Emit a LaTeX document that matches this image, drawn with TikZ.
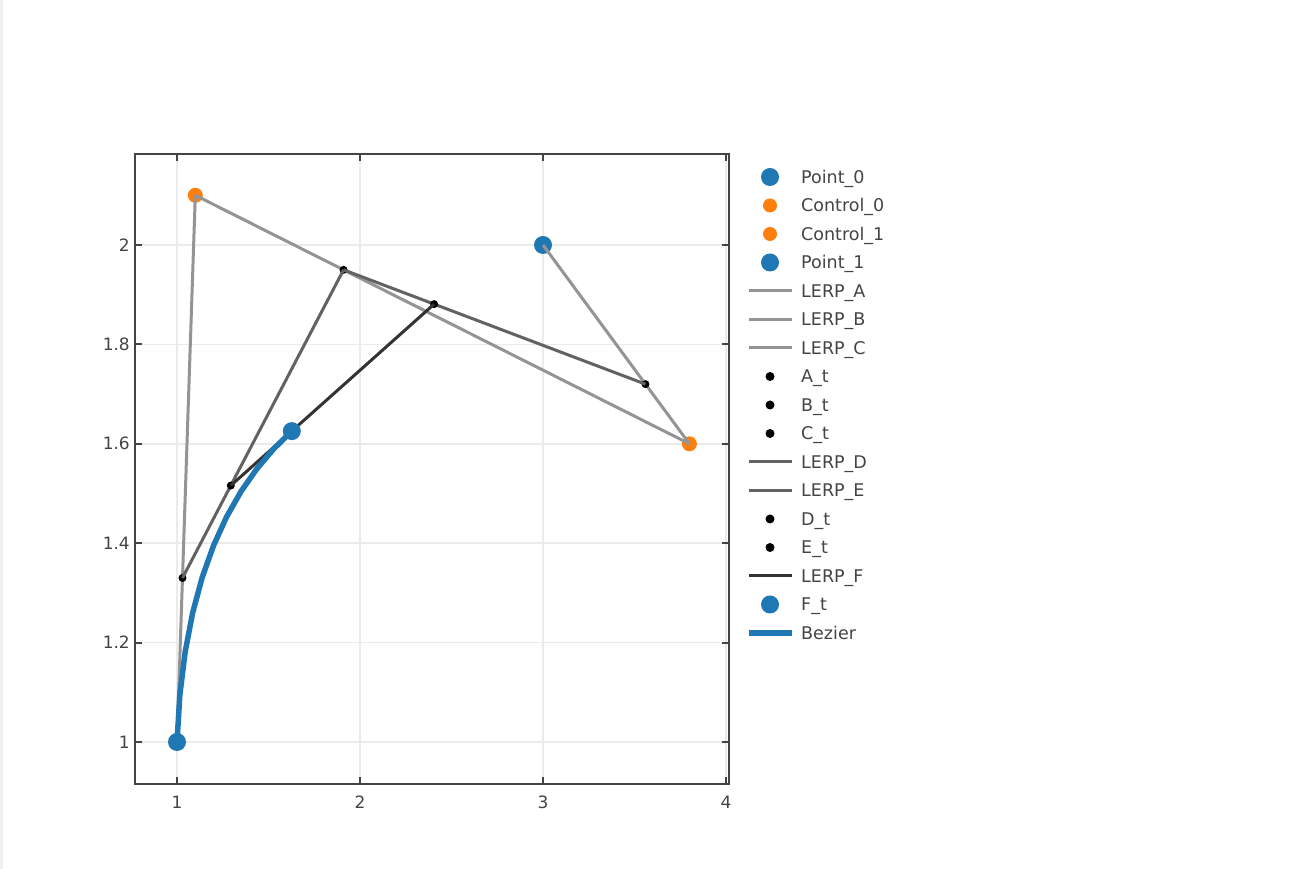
\documentclass[tikz,border=0pt]{standalone}
\usepackage{fontspec}
\setmainfont{DejaVu Sans}
\usetikzlibrary{calc}
\definecolor{pblue}{HTML}{1F77B4}
\definecolor{porange}{HTML}{FF7F0E}
\definecolor{lgray}{HTML}{949494}
\definecolor{mgray}{HTML}{626262}
\definecolor{dgray}{HTML}{333333}
\definecolor{gridc}{HTML}{EBEBEB}
\definecolor{axisc}{HTML}{444444}
\begin{document}
\begin{tikzpicture}[x=1pt, y=1pt,
    bigpt/.style={circle, fill=pblue, minimum size=18pt, inner sep=0},
    ctlpt/.style={circle, fill=porange, minimum size=15pt, inner sep=0},
    tpt/.style={circle, fill=black, minimum size=8pt, inner sep=0},
    lerpa/.style={lgray, line width=3pt},
    lerpb/.style={mgray, line width=3pt},
    lerpc/.style={dgray, line width=3pt},
    bez/.style={pblue, line width=5.5pt},
    gridline/.style={gridc, line width=1.5pt},
    tickmark/.style={axisc, line width=2pt},
    ticklab/.style={font=\fontsize{17}{20}\selectfont, text=axisc, inner sep=0},
    legtext/.style={anchor=west, inner sep=0, text height=12.5pt, text depth=0pt,
        font=\fontsize{17.5}{20}\selectfont, text=axisc}
]
    % Rahmen des Bildes
    \fill[white] (0,0) rectangle (1296,869);
    \useasboundingbox (0,0) rectangle (1296,869);
    \fill[black!6] (0,0) rectangle (3,869);

    \begin{scope}[shift={(-6pt,-370pt)}, x=183pt, y=497pt]
        % Gitter
        \foreach \xv in {1,2,3,4}
            \draw[gridline] (\xv,0.9155) -- (\xv,2.1831);
        \foreach \yv in {1,1.2,...,2.01}
            \draw[gridline] (0.7705,\yv) -- (4.0164,\yv);

        % Ticks und Beschriftung
        \foreach \xv in {1,2,3,4} {
            \draw[tickmark] (\xv,0.9155) -- ++(0pt,7pt);
            \draw[tickmark] (\xv,2.1831) -- ++(0pt,-7pt);
            \node[ticklab] (xl\xv) at ([yshift=-18pt]\xv,0.9155) {\xv};
        }
        \foreach \yv/\ylab in {1/1,1.2/1.2,1.4/1.4,1.6/1.6,1.8/1.8,2/2} {
            \draw[tickmark] (0.7705,\yv) -- ++(7pt,0pt);
            \draw[tickmark] (4.0164,\yv) -- ++(-7pt,0pt);
            \node[ticklab, anchor=east] (yl\ylab) at ([xshift=-5pt]0.7705,\yv) {\ylab};
        }
        \draw[axisc, line width=2pt] (0.7705,0.9155) rectangle (4.0164,2.1831);

        % Punkte
        \node[bigpt] (p0) at (1,1) {};
        \node[ctlpt] (c0) at (1.1,2.1) {};
        \node[ctlpt] (c1) at (3.8,1.6) {};
        \node[bigpt] (p1) at (3,2) {};

        % erste Stufe
        \draw[lerpa] (p0.center) -- (c0.center);
        \draw[lerpa] (c0.center) -- (c1.center);
        \draw[lerpa] (c1.center) -- (p1.center);
        \node[tpt] (at) at ($(p0)!0.3!(c0)$) {};
        \node[tpt] (bt) at ($(c0)!0.3!(c1)$) {};
        \node[tpt] (ct) at ($(c1)!0.3!(p1)$) {};

        % zweite Stufe
        \draw[lerpb] (at.center) -- (bt.center);
        \draw[lerpb] (bt.center) -- (ct.center);
        \node[tpt] (dt) at ($(at)!0.3!(bt)$) {};
        \node[tpt] (et) at ($(bt)!0.3!(ct)$) {};

        % dritte Stufe
        \draw[lerpc] (dt.center) -- (et.center);
        \node[bigpt] (ft) at ($(dt)!0.3!(et)$) {};

        % Kurve bis t=0.3
        \draw[bez, line join=round] plot[domain=0:0.3, samples=11, variable=\t]
            ({(1-\t)^3 + 3*(1-\t)^2*\t*1.1 + 3*(1-\t)*\t^2*3.8 + \t^3*3},
             {(1-\t)^3 + 3*(1-\t)^2*\t*2.1 + 3*(1-\t)*\t^2*1.6 + \t^3*2});
    \end{scope}

    % Legende
    \foreach \lab [count=\i from 0] in {Point\_0, Control\_0, Control\_1, Point\_1,
            LERP\_A, LERP\_B, LERP\_C, A\_t, B\_t, C\_t, LERP\_D, LERP\_E,
            D\_t, E\_t, LERP\_F, F\_t, Bezier}
        \node[legtext] (leg\i) at (801,{692-28.5*\i}) {\lab};
    \foreach \i in {0,3,15}
        \node[bigpt] (sym\i) at ([xshift=-31pt]leg\i.west) {};
    \foreach \i in {1,2}
        \node[ctlpt, minimum size=14pt] (sym\i) at ([xshift=-31pt]leg\i.west) {};
    \foreach \i in {7,8,9,12,13}
        \node[tpt, minimum size=9pt] (sym\i) at ([xshift=-31pt]leg\i.west) {};
    \foreach \i in {4,5,6}
        \draw[lerpa] ([xshift=-52pt]leg\i.west) -- ([xshift=-9pt]leg\i.west);
    \foreach \i in {10,11}
        \draw[lerpb] ([xshift=-52pt]leg\i.west) -- ([xshift=-9pt]leg\i.west);
    \draw[lerpc] ([xshift=-52pt]leg14.west) -- ([xshift=-9pt]leg14.west);
    \draw[bez] ([xshift=-52pt]leg16.west) -- ([xshift=-9pt]leg16.west);
\end{tikzpicture}
\end{document}
